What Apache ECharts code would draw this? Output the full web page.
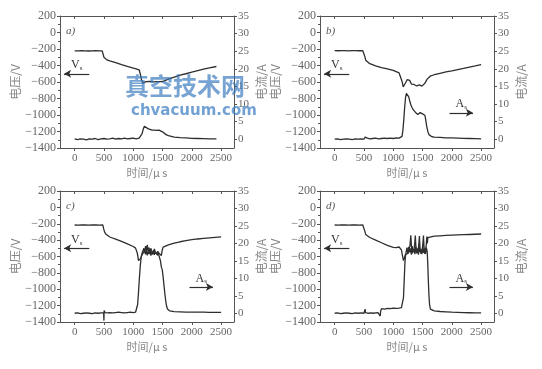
<!DOCTYPE html>
<html><head><meta charset="utf-8">
<script src="https://cdn.jsdelivr.net/npm/echarts@6/dist/echarts.min.js"></script>
<style>html,body{margin:0;padding:0;background:#fff}#c{width:542px;height:369px}</style>
</head><body><div id="c"></div><script>
// ---- data (time in µs, voltage in V, current in A) ----
const xTicks = [0, 500, 1000, 1500, 2000, 2500];
const iTicks = [0, 5, 10, 15, 20, 25, 30, 35];

// panel a
const aVT = [0,60,120,180,240,300,360,420,470,485,500,520,550,600,700,800,900,1000,1050,1100,1120,1140,1165,1190,1220,1250,1280,1310,1340,1370,1400,1430,1460,1500,1550,1600,1700,1800,1900,2000,2100,2200,2300,2420];
const aV  = [-222,-223,-221,-222,-224,-222,-221,-223,-222,-260,-300,-318,-332,-345,-365,-390,-412,-432,-442,-452,-500,-570,-614,-605,-595,-604,-592,-606,-598,-603,-595,-602,-596,-594,-580,-565,-540,-517,-500,-480,-462,-445,-428,-412];
const aIT = [0,50,100,150,200,250,300,350,400,450,500,550,600,650,700,750,800,850,900,950,1000,1050,1100,1130,1150,1170,1190,1205,1220,1250,1280,1320,1360,1400,1440,1470,1500,1530,1560,1600,1650,1700,1800,1900,2000,2100,2200,2300,2420];
const aI  = [0.1,-0.1,0.1,0,-0.2,0.1,0,0.2,-0.1,0.1,0.2,0,0.1,0.3,0,0.2,0.1,0.3,0.1,0.2,0.3,0.1,0.3,0.5,1.5,2.8,3.7,3.8,3.4,3.0,2.7,2.6,2.6,2.5,2.6,2.4,2.1,1.6,1.3,1.0,0.8,0.6,0.45,0.35,0.25,0.2,0.15,0.1,0.1];

// panel b
const bVT = [0,60,120,180,240,300,360,420,480,500,515,530,550,600,700,800,900,1000,1050,1100,1130,1150,1170,1190,1205,1220,1240,1260,1280,1295,1310,1325,1340,1355,1370,1385,1400,1415,1430,1445,1460,1475,1490,1505,1520,1540,1560,1580,1600,1630,1700,1800,1900,2000,2100,2200,2300,2400,2500];
const bV  = [-220,-221,-219,-220,-222,-220,-219,-221,-220,-228,-290,-335,-355,-378,-405,-425,-440,-460,-475,-490,-505,-590,-660,-640,-615,-595,-572,-566,-580,-600,-625,-640,-648,-630,-650,-632,-648,-634,-652,-636,-648,-630,-650,-640,-630,-615,-590,-565,-545,-530,-512,-495,-478,-465,-450,-436,-420,-405,-388];
const bIT = [0,50,100,150,200,250,300,350,400,450,500,520,540,560,600,650,700,750,800,850,900,950,1000,1050,1100,1130,1150,1165,1180,1195,1210,1225,1240,1250,1265,1280,1300,1320,1340,1360,1380,1400,1420,1440,1460,1480,1500,1520,1540,1555,1570,1590,1610,1630,1660,1700,1800,1900,2000,2100,2200,2300,2400,2500];
const bI  = [0,0.1,-0.1,0,0.1,0,-0.1,0.1,0,0.1,0,0.6,0.2,0.3,0.1,0.2,0.3,0.1,0.2,0.3,0.2,0.3,0.2,0.4,0.3,0.4,0.8,2.5,5.5,9.0,11.8,13.0,13.3,13.0,12.0,11.0,9.8,9.0,8.4,8.0,7.6,7.2,7.0,7.4,7.6,7.4,7.2,7.3,6.8,5.5,3.8,2.2,1.3,0.9,0.7,0.6,0.5,0.4,0.35,0.3,0.25,0.2,0.15,0.1];

// panel c
const cVT = [0,60,120,180,240,300,360,420,480,495,510,530,560,600,700,800,900,1000,1040,1070,1090,1110,1130,1150,1165,1180,1195,1210,1225,1240,1255,1270,1285,1300,1315,1330,1345,1360,1375,1390,1405,1420,1435,1450,1465,1480,1495,1510,1540,1600,1700,1800,1900,2000,2100,2200,2300,2400,2500];
const cV  = [-215,-216,-214,-215,-217,-215,-214,-216,-215,-260,-300,-325,-345,-362,-388,-415,-445,-478,-498,-560,-650,-660,-620,-580,-560,-590,-530,-575,-520,-585,-540,-570,-515,-590,-545,-575,-525,-580,-550,-565,-530,-585,-555,-575,-560,-590,-520,-485,-475,-458,-437,-420,-406,-395,-386,-379,-372,-366,-360];
const cIT = [0,50,100,150,200,250,300,350,400,450,480,495,500,503,508,520,560,600,650,700,750,800,850,900,950,1000,1040,1060,1075,1090,1105,1120,1135,1150,1165,1180,1195,1210,1225,1240,1255,1270,1285,1300,1315,1330,1345,1360,1375,1390,1405,1420,1435,1450,1465,1480,1495,1510,1525,1540,1555,1570,1585,1600,1620,1650,1700,1800,1900,2000,2100,2200,2300,2400,2500];
const cI  = [0,0.1,-0.1,0,0.1,0,-0.1,0.1,0,0.1,0,0.1,-2.1,0.8,0.3,0.2,0.1,0.2,0.1,0.2,0.3,0.2,0.1,0.2,0.3,0.2,0.3,0.5,2.5,6.0,10.0,13.5,16.0,17.2,17.8,18.6,17.4,19.2,18.0,19.6,17.6,18.8,17.2,18.6,17.8,18.2,17.0,18.4,17.6,18.0,17.0,17.8,16.8,16.4,15.0,13.2,12.5,10.5,8.0,5.6,3.5,2.0,1.2,0.9,0.7,0.55,0.45,0.4,0.35,0.3,0.3,0.3,0.25,0.25,0.25];

// panel d
const dVT = [0,60,120,180,240,300,360,420,480,500,515,530,560,600,700,800,900,1000,1050,1100,1120,1140,1160,1175,1190,1205,1220,1235,1250,1270,1285,1300,1310,1325,1340,1355,1368,1377,1387,1400,1415,1428,1440,1447,1457,1470,1485,1498,1508,1516,1525,1540,1552,1562,1574,1582,1590,1620,1700,1800,1900,2000,2100,2200,2300,2400,2500];
const dV  = [-215,-216,-214,-215,-217,-215,-214,-216,-215,-220,-290,-330,-350,-368,-400,-432,-465,-488,-492,-484,-480,-520,-600,-650,-625,-580,-560,-570,-560,-540,-470,-340,-470,-560,-580,-520,-430,-345,-480,-560,-580,-510,-420,-350,-490,-565,-580,-500,-420,-345,-480,-570,-575,-470,-355,-440,-370,-362,-352,-347,-343,-340,-337,-334,-331,-328,-325];
const dIT = [0,50,100,150,200,250,300,350,400,450,500,515,520,525,540,580,620,660,700,740,770,778,785,792,800,850,900,950,1000,1050,1100,1140,1160,1175,1190,1200,1210,1220,1235,1250,1265,1280,1295,1310,1325,1340,1355,1370,1385,1400,1415,1430,1445,1460,1475,1490,1505,1520,1535,1550,1565,1580,1590,1600,1610,1620,1635,1660,1700,1800,1900,2000,2100,2200,2300,2400,2500];
const dI  = [0,0.1,-0.1,0,0.1,0,-0.1,0.1,0,0.1,0,0.2,1.2,0.2,0.1,0,0.1,0,0.1,0.2,0.1,-0.8,0.6,1.1,1.3,1.2,1.4,1.3,1.5,1.4,1.5,1.6,1.8,4.5,10.5,14.5,16.6,17.5,18.8,17.0,19.0,17.4,18.6,16.8,19.2,17.6,18.4,16.9,19.0,17.2,18.6,16.8,19.1,17.5,18.3,16.9,19.0,17.3,18.5,17.0,18.8,17.6,14.0,9.0,5.0,2.5,1.2,0.9,0.7,0.5,0.4,0.3,0.25,0.2,0.15,0.1,0.1];

// annotation values (data units)
const vArrow = [[-180, -500], [250, -500]];
const iArrow = [[1960, 7.5], [2360, 7.5]];

// ---- layout ----
const panels = [
  {tag:'a)', vt:aVT, v:aV, it:aIT, i:aI, box:{left:60, top:16, width:174, height:132}, showA:false},
  {tag:'b)', vt:bVT, v:bV, it:bIT, i:bI, box:{left:320, top:16, width:174, height:132}, showA:true},
  {tag:'c)', vt:cVT, v:cV, it:cIT, i:cI, box:{left:60, top:191, width:174, height:131}, showA:true},
  {tag:'d)', vt:dVT, v:dV, it:dIT, i:dI, box:{left:320, top:191, width:174, height:131}, showA:true}
];

const AX = '#555', LBL = '#666', NAME = '#888', LINE = '#2e2e2e';
const serif = 'Liberation Serif';
const cjk = 'Noto Sans CJK SC';
const XMIN = -250, XMAX = 2720;

const grid = [], xAxis = [], yAxis = [], series = [], graphic = [];
const subRich = {
  v: {fontFamily: serif, fontSize: 12, color: '#333'},
  s: {fontFamily: serif, fontSize: 7, color: '#333', verticalAlign: 'bottom', padding: [6, 0, 0, 0]}
};
const plain = v => String(v).replace('-', '\u2212');

panels.forEach((p, k) => {
  grid.push(Object.assign({containLabel: false, show: false}, p.box));
  xAxis.push({
    type: 'value', gridIndex: k, min: XMIN, max: XMAX, position: 'bottom',
    axisLine: {show: true, onZero: false, lineStyle: {color: AX, width: 1}},
    axisTick: {show: true, inside: false, length: 3, customValues: xTicks, lineStyle: {color: AX}},
    axisLabel: {customValues: xTicks, margin: 5, color: LBL, fontFamily: serif, fontSize: 11, formatter: plain},
    splitLine: {show: false},
    name: '时间/μ s', nameLocation: 'middle', nameGap: 19,
    nameTextStyle: {color: NAME, fontFamily: cjk, fontSize: 11}
  });
  xAxis.push({
    type: 'value', gridIndex: k, min: XMIN, max: XMAX, position: 'top',
    axisLine: {show: true, onZero: false, lineStyle: {color: AX, width: 1}},
    axisTick: {show: true, inside: true, length: 3, customValues: xTicks, lineStyle: {color: AX}},
    axisLabel: {show: false}, splitLine: {show: false}
  });
  yAxis.push({
    type: 'value', gridIndex: k, min: -1400, max: 200, interval: 200, position: 'left',
    axisLine: {show: true, onZero: false, lineStyle: {color: AX, width: 1}},
    axisTick: {show: true, inside: false, length: 3, lineStyle: {color: AX}},
    minorTick: {show: true, splitNumber: 2, length: 2, lineStyle: {color: AX}},
    axisLabel: {margin: 4, color: LBL, fontFamily: serif, fontSize: 12, formatter: plain},
    splitLine: {show: false},
    name: '电压/V', nameLocation: 'middle', nameRotate: 90, nameGap: 38,
    nameTextStyle: {color: NAME, fontFamily: cjk, fontSize: 12}
  });
  yAxis.push({
    type: 'value', gridIndex: k, min: -2.5, max: 35, position: 'right',
    axisLine: {show: true, onZero: false, lineStyle: {color: AX, width: 1}},
    axisTick: {show: true, inside: false, length: 3, customValues: iTicks, lineStyle: {color: AX}},
    axisLabel: {customValues: iTicks, margin: 4, color: LBL, fontFamily: serif, fontSize: 11, formatter: plain},
    splitLine: {show: false},
    name: '电流/A', nameLocation: 'middle', nameRotate: 90, nameGap: 21,
    nameTextStyle: {color: NAME, fontFamily: cjk, fontSize: 12}
  });

  const lineBase = {type: 'line', showSymbol: false, symbol: 'none', animation: false,
    lineStyle: {color: LINE, width: 1.3}, z: 3};
  series.push(Object.assign({}, lineBase, {
    name: 'V' + k, xAxisIndex: 2 * k, yAxisIndex: 2 * k,
    data: p.vt.map((t, j) => [t, p.v[j]]),
    markLine: {
      silent: true, animation: false, symbol: ['arrow', 'none'], symbolSize: [6, 7],
      lineStyle: {color: LINE, width: 1.2, type: 'solid'},
      label: {show: true, position: 'insideMiddleTop', distance: 2, formatter: '{v|V}{s|s}', rich: subRich},
      data: [[{coord: vArrow[0]}, {coord: vArrow[1]}]]
    }
  }));
  series.push(Object.assign({}, lineBase, {
    name: 'I' + k, xAxisIndex: 2 * k, yAxisIndex: 2 * k + 1,
    data: p.it.map((t, j) => [t, p.i[j]]),
    markLine: p.showA ? {
      silent: true, animation: false, symbol: ['none', 'arrow'], symbolSize: [6, 7],
      lineStyle: {color: LINE, width: 1.2, type: 'solid'},
      label: {show: true, position: 'insideMiddleTop', distance: 2, formatter: '{v|A}{s|s}', rich: subRich},
      data: [[{coord: iArrow[0]}, {coord: iArrow[1]}]]
    } : undefined
  }));

  graphic.push({
    type: 'text', left: p.box.left + 6, top: p.box.top + 10, z: 10,
    style: {text: p.tag, fontFamily: serif, fontStyle: 'italic', fontSize: 11, fill: '#555'}
  });
});

// watermark
graphic.push({
  type: 'text', left: 125, top: 74, z: 20,
  style: {text: '真空技术网', fontFamily: cjk, fontWeight: 'bold', fontSize: 24,
    fill: 'rgba(55,120,190,0.68)', letterSpacing: 7}
});
graphic.push({
  type: 'text', left: 131, top: 104, z: 20,
  style: {text: 'chvacuum.com', fontFamily: 'DejaVu Sans', fontWeight: 'bold', fontSize: 15,
    fill: 'rgba(60,125,195,0.72)'}
});

const chart = echarts.init(document.getElementById('c'), null, {renderer: 'canvas'});
chart.setOption({backgroundColor: '#ffffff', animation: false, grid, xAxis, yAxis, series, graphic});
</script></body></html>
